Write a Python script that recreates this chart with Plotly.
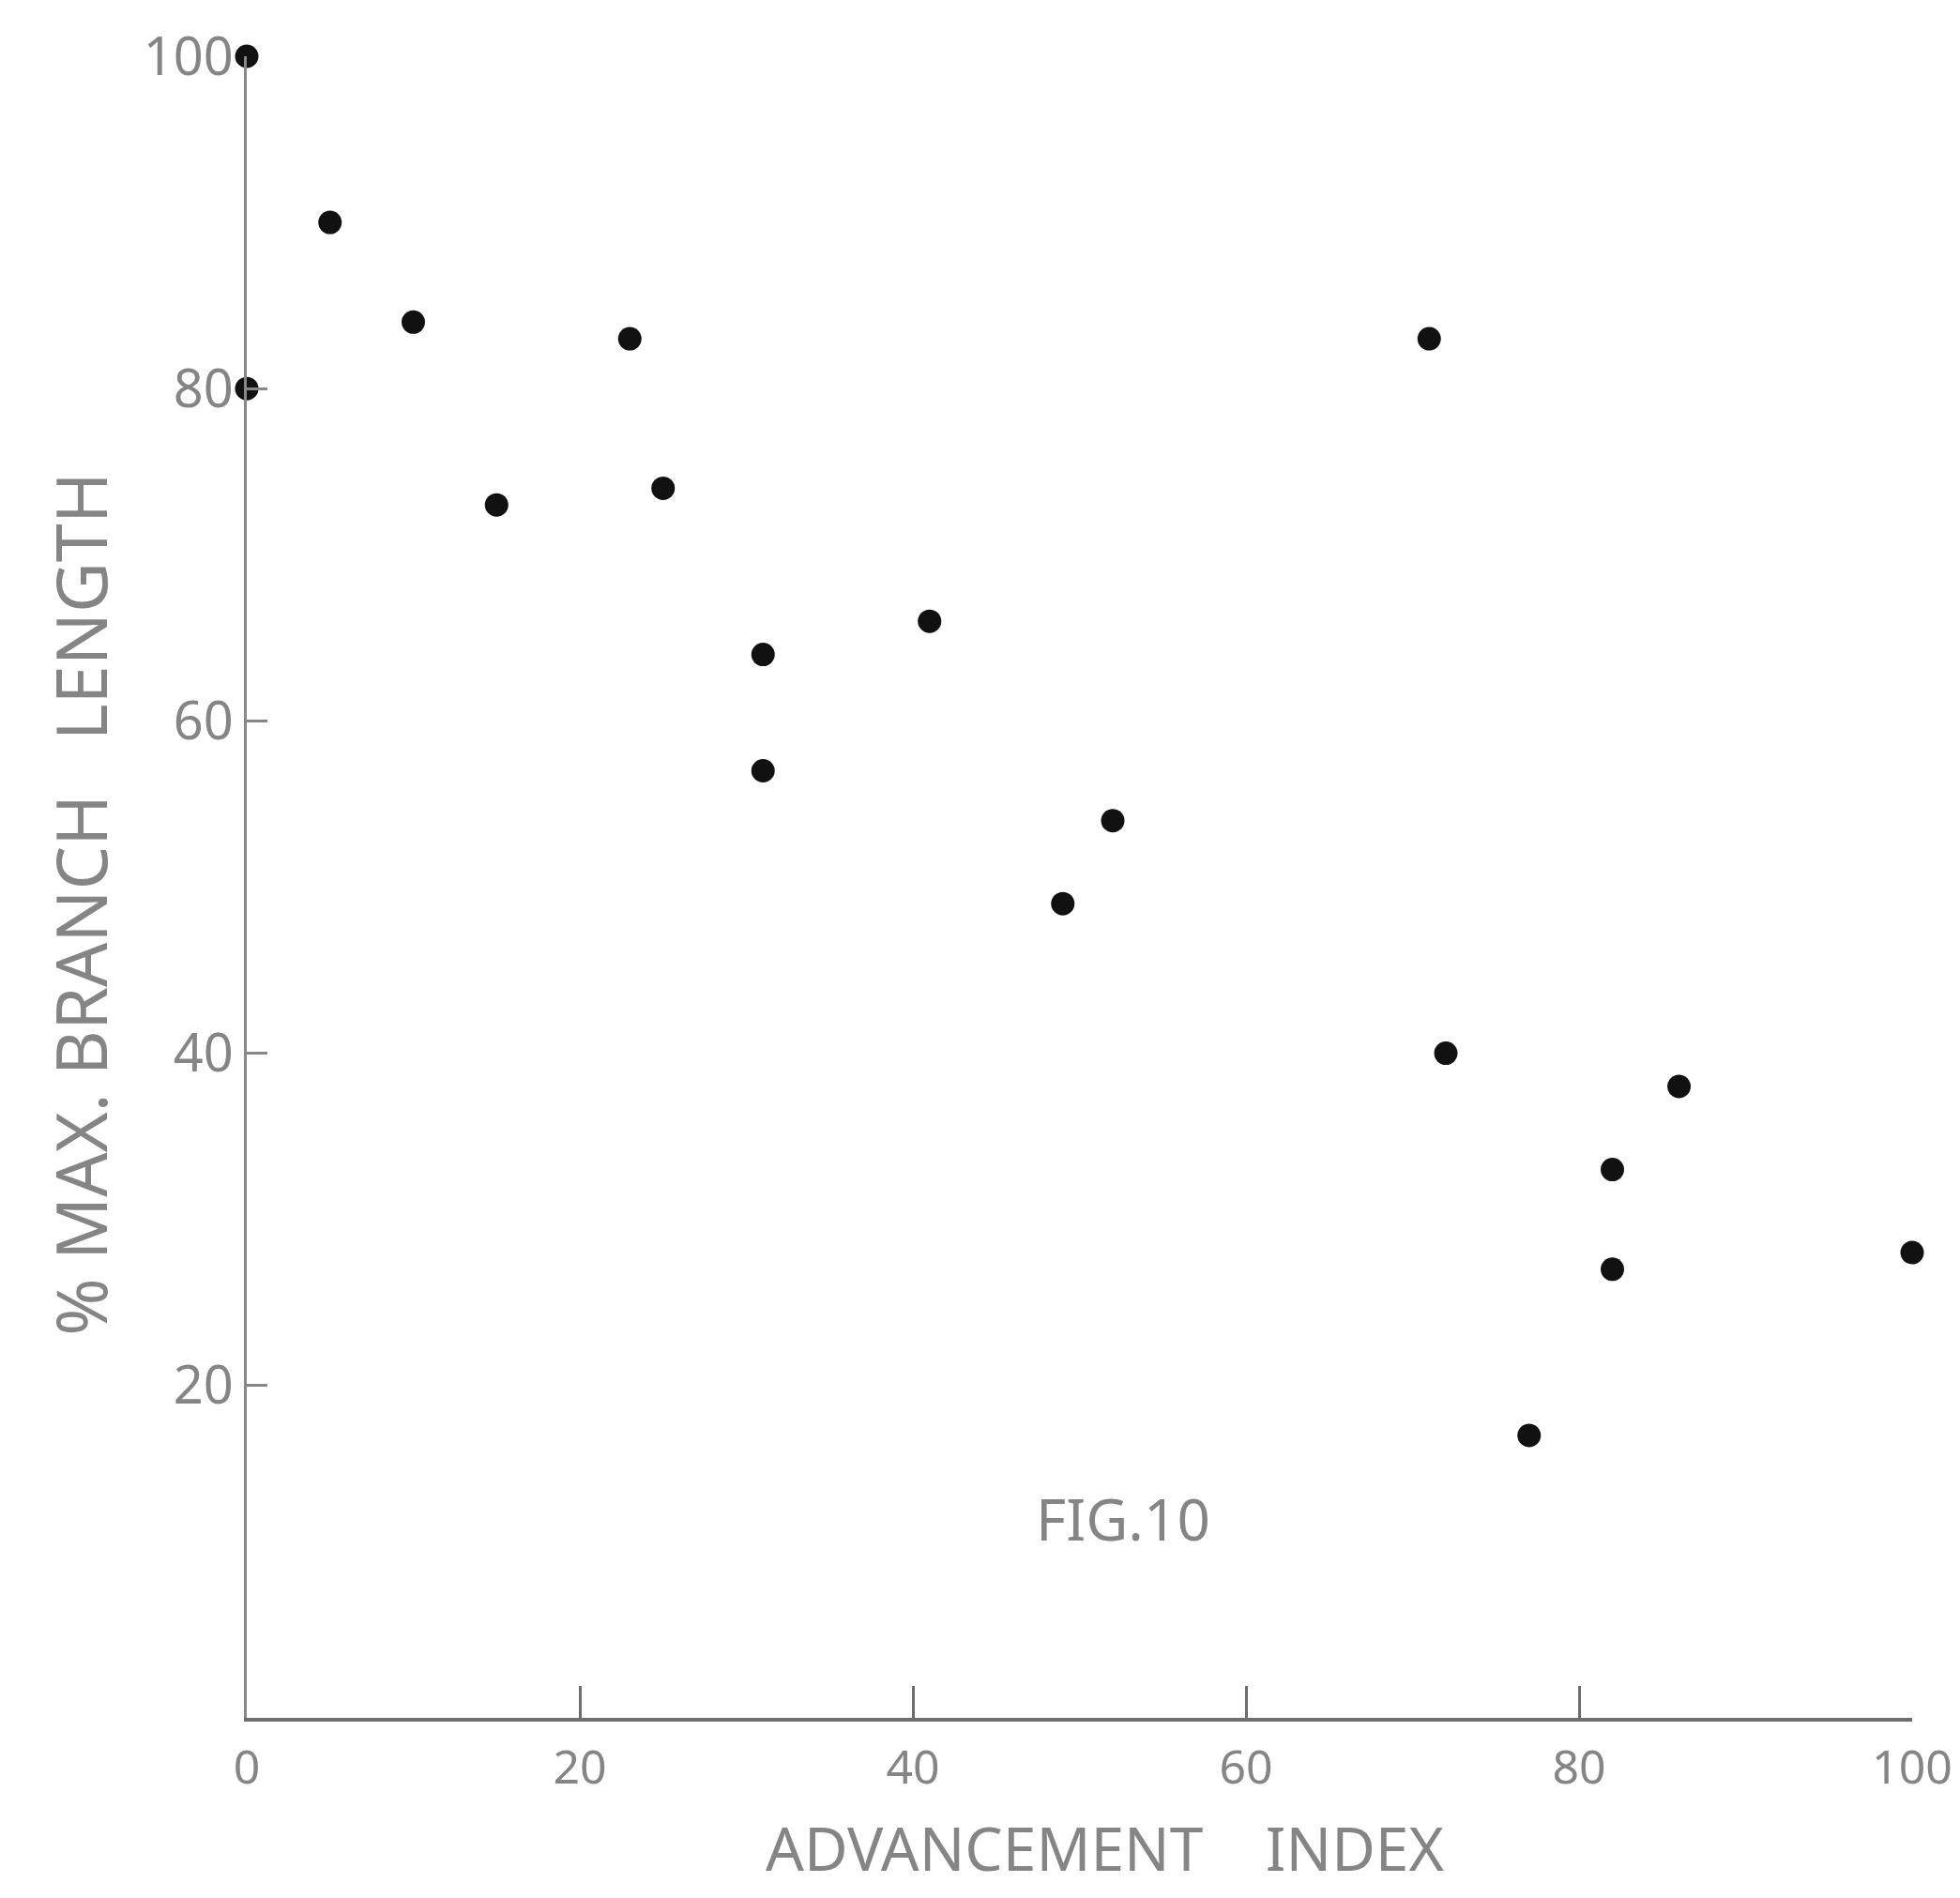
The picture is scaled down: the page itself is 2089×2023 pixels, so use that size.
import plotly.graph_objects as go

advancement_index = [0, 5, 10, 0, 23, 15, 25, 31, 31, 41, 52, 49, 71, 72, 86, 82, 82, 100, 77]
pct_max_branch_length = [100, 90, 84, 80, 83, 73, 74, 64, 57, 66, 54, 49, 83, 40, 38, 33, 27, 28, 17]
tick_vals = [0, 20, 40, 60, 80, 100]
tick_text = ["0", "20", "40", "60", "80", "100"]

GREY = "#858585"
FONT = "Noto Sans"

fig = go.Figure(go.Scatter(
    x=advancement_index, y=pct_max_branch_length, mode="markers",
    marker=dict(color="#111111", size=25, line=dict(width=0)),
    cliponaxis=False, showlegend=False,
))

fig.update_layout(
    width=2089, height=2023,
    paper_bgcolor="white", plot_bgcolor="white",
    margin=dict(l=255, r=59, t=47, b=200),
    font=dict(family=FONT, color=GREY),
    xaxis=dict(range=[0, 100], tickvals=tick_vals, ticktext=tick_text,
               showgrid=False, zeroline=False, showline=True, linecolor="#6e6e6e",
               linewidth=4, ticks="inside", ticklen=34, tickwidth=3, tickcolor="#6e6e6e",
               ticklabelstandoff=6,
               tickfont=dict(size=50, color=GREY, family=FONT)),
    yaxis=dict(range=[0, 100], tickvals=tick_vals[1:], ticktext=tick_text[1:],
               showgrid=False, zeroline=False, showline=True, linecolor="#888888",
               linewidth=3, ticks="inside", ticklen=22, tickwidth=3, tickcolor="#888888",
               tickfont=dict(size=56, color=GREY, family=FONT)),
    annotations=[
        dict(text="ADVANCEMENT\u00a0\u00a0\u00a0\u00a0INDEX", xref="paper", yref="paper",
             x=0.515, y=-0.078, xanchor="center", yanchor="middle", showarrow=False,
             font=dict(size=64, color=GREY, family=FONT)),
        dict(text="% MAX. BRANCH\u00a0\u00a0\u00a0LENGTH", xref="paper", yref="paper",
             x=-0.1, y=0.49, xanchor="center", yanchor="middle", showarrow=False,
             textangle=-90, font=dict(size=74, color=GREY, family=FONT)),
        dict(text="FIG.10", xref="paper", yref="paper",
             x=0.526, y=0.12, xanchor="center", yanchor="middle", showarrow=False,
             font=dict(size=62, color=GREY, family=FONT)),
    ],
)

fig.write_html("out.html")
